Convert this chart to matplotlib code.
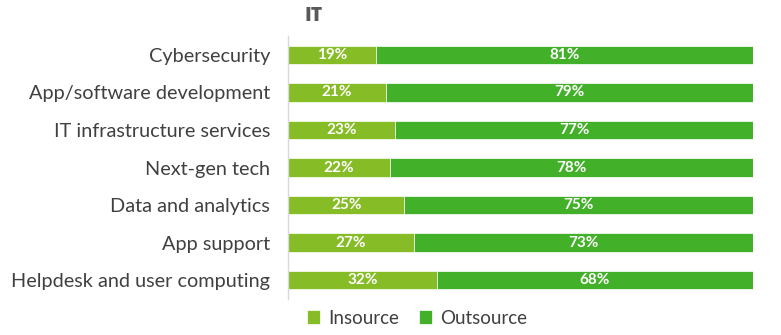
import matplotlib
matplotlib.use("Agg")
import matplotlib.pyplot as plt
import numpy as np

categories = ["Cybersecurity", "App/software development", "IT infrastructure services",
              "Next-gen tech", "Data and analytics", "App support",
              "Helpdesk and user computing"]
insource = [19, 21, 23, 22, 25, 27, 32]
outsource = [81, 79, 77, 78, 75, 73, 68]
series_names = ["Insource", "Outsource"]
title = "IT"

plt.rcParams["font.family"] = ["Lato", "DejaVu Sans"]

c_in = "#86BC25"
c_out = "#43B02A"
text_col = "#404040"

fig = plt.figure(figsize=(7.81, 3.35), dpi=100)
ax = fig.add_axes([0.3688, 0.1075, 0.5953, 0.785])

y = np.arange(len(categories))
h = 0.49
b1 = ax.barh(y, insource, height=h, color=c_in, edgecolor="white", linewidth=0.5, label=series_names[0])
b2 = ax.barh(y, outsource, left=insource, height=h, color=c_out, edgecolor="white", linewidth=0.5, label=series_names[1])

for yi, a, b in zip(y, insource, outsource):
    ax.text(a / 2, yi, f"{a}%", ha="center", va="center", color="white",
            fontsize=11, fontweight="bold")
    ax.text(a + b / 2, yi, f"{b}%", ha="center", va="center", color="white",
            fontsize=11, fontweight="bold")

ax.set_xlim(0, 100)
ax.set_ylim(len(categories) - 0.5, -0.5)
ax.set_yticks(y)
ax.set_yticklabels(categories, fontsize=14.3, color=text_col)
ax.tick_params(axis="y", length=0, pad=13)
ax.set_xticks([])
for s in ["top", "right", "bottom"]:
    ax.spines[s].set_visible(False)
ax.spines["left"].set_color("#D9D9D9")
ax.spines["left"].set_linewidth(1)

fig.text(305 / 781, 1 - 16 / 335, title, ha="left", va="center", fontsize=14,
         fontweight="black", color="#595959", family=["Open Sans", "DejaVu Sans"])

fig.legend(handles=[b1, b2], labels=series_names, loc="center",
           bbox_to_anchor=(417 / 781, 1 - 318 / 335), ncol=2, frameon=False,
           fontsize=13.5, handlelength=0.7, handleheight=0.7, handletextpad=0.4,
           columnspacing=1.1, labelcolor=text_col)

fig.savefig("out.png", dpi=100)
